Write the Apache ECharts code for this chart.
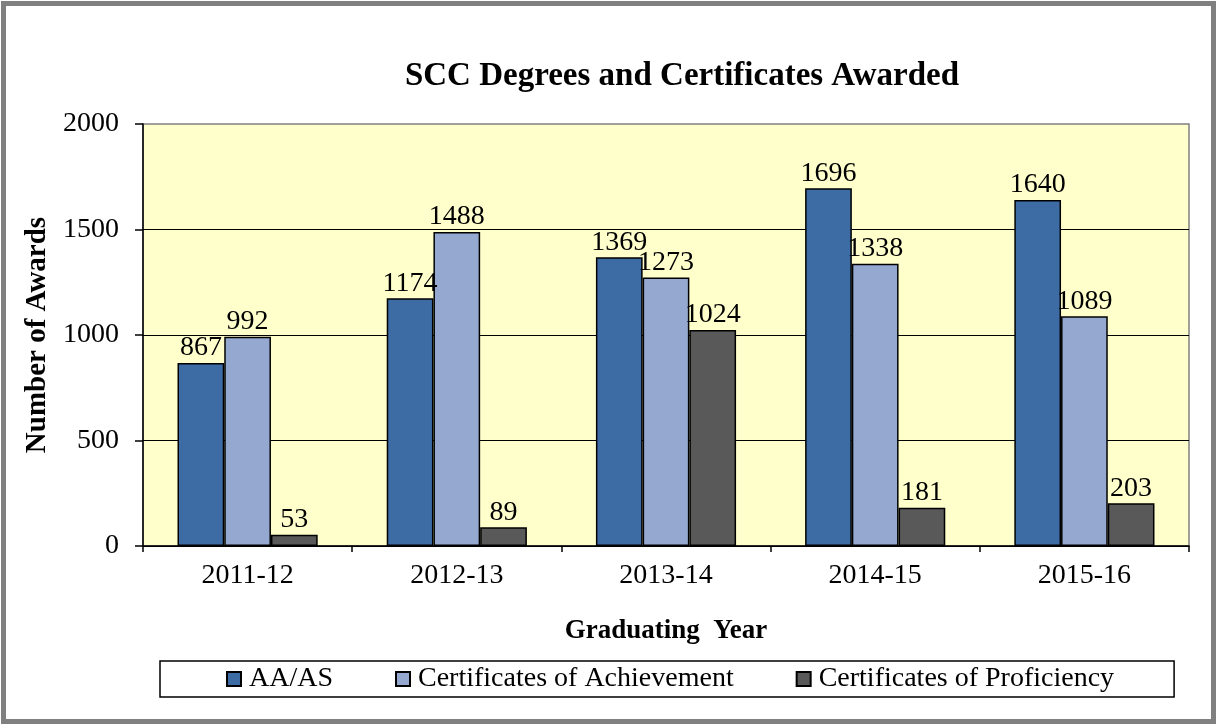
<!DOCTYPE html>
<html>
<head>
<meta charset="utf-8">
<script src="https://cdn.jsdelivr.net/npm/echarts@6/dist/echarts.min.js"></script>
<style>
  html, body { margin: 0; padding: 0; background: #fff; }
  #main { width: 1217px; height: 726px; }
</style>
</head>
<body>
<div id="main"></div>
<script>
var years = ['2011-12', '2012-13', '2013-14', '2014-15', '2015-16'];
var dataAA = [867, 1174, 1369, 1696, 1640];
var dataAch = [992, 1488, 1273, 1338, 1089];
var dataProf = [53, 89, 1024, 181, 203];

var serif = '"Liberation Serif", "Times New Roman", serif';

function barSeries(name, data, color) {
    return {
        name: name,
        type: 'bar',
        data: data,
        barGap: '0%',
        barCategoryGap: '33%',
        itemStyle: {
            color: color,
            borderColor: '#000',
            borderWidth: 1.5
        },
        label: {
            show: true,
            position: 'top',
            distance: 1,
            color: '#000',
            fontFamily: serif,
            fontSize: 28
        }
    };
}

var option = {
    animation: false,
    backgroundColor: '#fff',
    title: {
        text: 'SCC Degrees and Certificates Awarded',
        left: 677,
        top: 55,
        textAlign: 'center',
        textStyle: {
            fontFamily: serif,
            fontSize: 33,
            fontWeight: 'bold',
            color: '#000'
        }
    },
    graphic: [{
        type: 'rect',
        shape: { x: 3.5, y: 3.5, width: 1210, height: 718 },
        style: { fill: null, stroke: '#808080', lineWidth: 5 },
        silent: true
    }],
    legend: {
        data: ['AA/AS', 'Certificates of Achievement', 'Certificates of Proficiency'],
        left: 160,
        top: 661,
        padding: [4, 60, 4, 66],
        itemGap: 62,
        itemWidth: 14,
        itemHeight: 14,
        icon: 'rect',
        borderColor: '#000',
        borderWidth: 1.5,
        textStyle: {
            fontFamily: serif,
            fontSize: 28,
            color: '#000',
            padding: [0, 0, 0, 3]
        }
    },
    grid: {
        left: 143,
        right: 28,
        top: 124,
        bottom: 180,
        show: true,
        backgroundColor: '#FFFFCC',
        borderColor: '#808080',
        borderWidth: 1.5
    },
    xAxis: {
        type: 'category',
        data: years,
        name: 'Graduating  Year',
        nameLocation: 'middle',
        nameGap: 72,
        nameTextStyle: {
            fontFamily: serif,
            fontSize: 27,
            fontWeight: 'bold',
            color: '#000'
        },
        axisLine: { lineStyle: { color: '#000', width: 1.5 } },
        axisTick: { show: true, length: 6, lineStyle: { color: '#000', width: 1.5 } },
        axisLabel: {
            margin: 16,
            fontFamily: serif,
            fontSize: 28,
            color: '#000'
        }
    },
    yAxis: {
        type: 'value',
        min: 0,
        max: 2000,
        interval: 500,
        name: 'Number of Awards',
        nameLocation: 'middle',
        nameGap: 86,
        nameTextStyle: {
            fontFamily: serif,
            fontSize: 29,
            fontWeight: 'bold',
            color: '#000'
        },
        axisLine: { show: true, lineStyle: { color: '#000', width: 1.5 } },
        axisTick: { show: true, length: 8, lineStyle: { color: '#000', width: 1.5 } },
        splitLine: { show: true, showMaxLine: false, lineStyle: { color: '#000', width: 1.2 } },
        axisLabel: {
            margin: 24,
            fontFamily: serif,
            fontSize: 28,
            color: '#000',
            formatter: function (v) { return String(v); }
        }
    },
    series: [
        barSeries('AA/AS', dataAA, '#3D6CA5'),
        barSeries('Certificates of Achievement', dataAch, '#95A9D0'),
        barSeries('Certificates of Proficiency', dataProf, '#595959')
    ]
};

var myChart = echarts.init(document.getElementById('main'));
myChart.setOption(option);
</script>
</body>
</html>
